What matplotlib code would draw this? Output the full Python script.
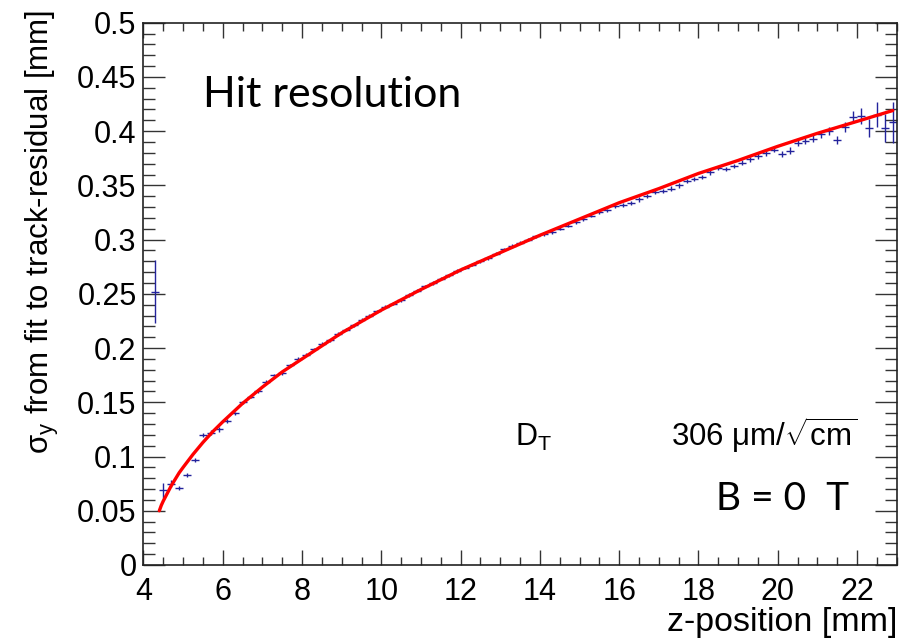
import matplotlib
matplotlib.use('Agg')
import matplotlib.pyplot as plt
from matplotlib.ticker import MultipleLocator

plt.rcParams['font.family'] = ['Liberation Sans', 'DejaVu Sans']
plt.rcParams['mathtext.fontset'] = 'custom'
plt.rcParams['mathtext.rm'] = 'Liberation Sans'
plt.rcParams['mathtext.it'] = 'Liberation Sans:italic'

# measured hit resolution per z bin (bin width 0.2 mm)
z_pos = [4.3, 4.5, 4.7, 4.9, 5.1, 5.3, 5.5, 5.7, 5.9, 6.1,
         6.3, 6.5, 6.7, 6.9, 7.1, 7.3, 7.5, 7.7, 7.9, 8.1,
         8.3, 8.5, 8.7, 8.9, 9.1, 9.3, 9.5, 9.7, 9.9, 10.1,
         10.3, 10.5, 10.7, 10.9, 11.1, 11.3, 11.5, 11.7, 11.9, 12.1,
         12.3, 12.5, 12.7, 12.9, 13.1, 13.3, 13.5, 13.7, 13.9, 14.1,
         14.3, 14.5, 14.7, 14.9, 15.1, 15.3, 15.5, 15.7, 15.9, 16.1,
         16.3, 16.5, 16.7, 16.9, 17.1, 17.3, 17.5, 17.7, 17.9, 18.1,
         18.3, 18.5, 18.7, 18.9, 19.1, 19.3, 19.5, 19.7, 19.9, 20.1,
         20.3, 20.5, 20.7, 20.9, 21.1, 21.3, 21.5, 21.7, 21.9, 22.1,
         22.3, 22.5, 22.7, 22.9]
sigma_y = [0.252, 0.069, 0.075, 0.071, 0.083, 0.097, 0.120, 0.122, 0.125, 0.133,
           0.140, 0.150, 0.155, 0.160, 0.169, 0.175, 0.177, 0.184, 0.190, 0.194,
           0.199, 0.204, 0.207, 0.213, 0.217, 0.221, 0.226, 0.230, 0.234, 0.238,
           0.241, 0.244, 0.249, 0.253, 0.257, 0.260, 0.264, 0.267, 0.271, 0.274,
           0.277, 0.280, 0.283, 0.287, 0.291, 0.294, 0.297, 0.300, 0.303, 0.305,
           0.307, 0.310, 0.313, 0.316, 0.319, 0.322, 0.325, 0.327, 0.331, 0.332,
           0.334, 0.337, 0.340, 0.344, 0.345, 0.347, 0.350, 0.354, 0.356, 0.358,
           0.362, 0.366, 0.365, 0.368, 0.371, 0.374, 0.377, 0.380, 0.383, 0.379,
           0.382, 0.389, 0.391, 0.393, 0.397, 0.400, 0.392, 0.404, 0.413, 0.414,
           0.403, 0.415, 0.403, 0.408]
sigma_err = [0.029, 0.007, 0.003, 0.002, 0.002, 0.002, 0.002, 0.002, 0.002, 0.002,
             0.0015, 0.0015, 0.0015, 0.0015, 0.0015, 0.0015, 0.0015, 0.0015, 0.0015, 0.0015,
             0.0015, 0.0015, 0.0015, 0.0015, 0.0015, 0.0015, 0.0015, 0.0015, 0.0015, 0.0015,
             0.0015, 0.0015, 0.0015, 0.0015, 0.0015, 0.0015, 0.0015, 0.0015, 0.0015, 0.0015,
             0.0015, 0.0015, 0.0015, 0.0015, 0.0015, 0.0015, 0.0015, 0.0015, 0.0015, 0.0015,
             0.0015, 0.0015, 0.0015, 0.0015, 0.0015, 0.0015, 0.0015, 0.0015, 0.0015, 0.0015,
             0.002, 0.002, 0.002, 0.002, 0.002, 0.002, 0.002, 0.002, 0.002, 0.002,
             0.002, 0.002, 0.002, 0.002, 0.002, 0.002, 0.0025, 0.0025, 0.0025, 0.0025,
             0.003, 0.003, 0.003, 0.003, 0.003, 0.0035, 0.0035, 0.0046, 0.0055, 0.007,
             0.008, 0.0115, 0.013, 0.019]
bin_half = 0.1

# drift fit curve
fit_z = [4.4, 4.45, 4.5, 4.6, 4.7, 4.8, 4.9, 5.0, 5.25, 5.5, 5.75, 6.0, 6.5, 7.0, 7.5,
         8, 9, 10, 11, 12, 13, 14, 15, 16, 17, 18, 19, 20, 21, 22, 22.9]
fit_sigma = [0.050, 0.055, 0.059, 0.066, 0.073, 0.079, 0.085, 0.090, 0.102, 0.113, 0.123,
             0.132, 0.149, 0.164, 0.178, 0.190, 0.214, 0.235, 0.254, 0.272, 0.288, 0.304,
             0.319, 0.334, 0.347, 0.361, 0.373, 0.386, 0.398, 0.409, 0.419]

y_ticks = [0, 0.05, 0.1, 0.15, 0.2, 0.25, 0.3, 0.35, 0.4, 0.45, 0.5]
y_ticklabels = ['0', '0.05', '0.1', '0.15', '0.2', '0.25', '0.3', '0.35', '0.4', '0.45', '0.5']

fig = plt.figure(figsize=(9.04, 6.41), dpi=100)
ax = fig.add_axes([0.1587, 0.1186, 0.8332, 0.846])

ax.errorbar(z_pos, sigma_y, xerr=bin_half, yerr=sigma_err, fmt='none',
            ecolor='#23239c', elinewidth=1.0, capsize=0, zorder=2)
ax.plot(fit_z, fit_sigma, color='#ff0000', lw=2.4, zorder=3, solid_capstyle='round')

ax.set_xlim(4, 23)
ax.set_ylim(0, 0.5)
ax.xaxis.set_major_locator(MultipleLocator(2))
ax.xaxis.set_minor_locator(MultipleLocator(0.5))
ax.set_yticks(y_ticks)
ax.set_yticklabels(y_ticklabels)
ax.yaxis.set_minor_locator(MultipleLocator(0.01))

ax.tick_params(which='both', direction='in', top=True, right=True, color='#333333')
ax.tick_params(axis='x', which='major', length=11, width=1, labelsize=22, pad=9)
ax.tick_params(axis='x', which='minor', length=6, width=1)
ax.tick_params(axis='y', which='major', length=16, width=1, labelsize=22, pad=5)
ax.tick_params(axis='y', which='minor', length=8.5, width=1)
for s in ax.spines.values():
    s.set_linewidth(1.2)
    s.set_color('#222222')

fig.text(42 / 904, 1 - 10 / 641, r'$\mathregular{\sigma_y}$ from fit to track-residual [mm]',
         rotation=90, ha='center', va='top', fontsize=22.5)
fig.text(897 / 904, 1 - 622 / 641, 'z-position [mm]', ha='right', va='center', fontsize=24.5)

fig.text(203 / 904, 1 - 107 / 641, 'Hit resolution', family=['Lato', 'DejaVu Sans'],
         fontsize=31, va='baseline')
fig.text(515 / 904, 1 - 446 / 641, r'D$_\mathregular{T}$', fontsize=22, va='baseline')
fig.text(857 / 904, 1 - 446 / 641, r'306 μm/$\mathregular{\sqrt{cm}}$', fontsize=22.5,
         ha='right', va='baseline')
fig.text(849 / 904, 1 - 510 / 641, 'B = 0  T', family=['Lato', 'DejaVu Sans'],
         fontsize=28, ha='right', va='baseline')

fig.savefig('out.png', dpi=100)
